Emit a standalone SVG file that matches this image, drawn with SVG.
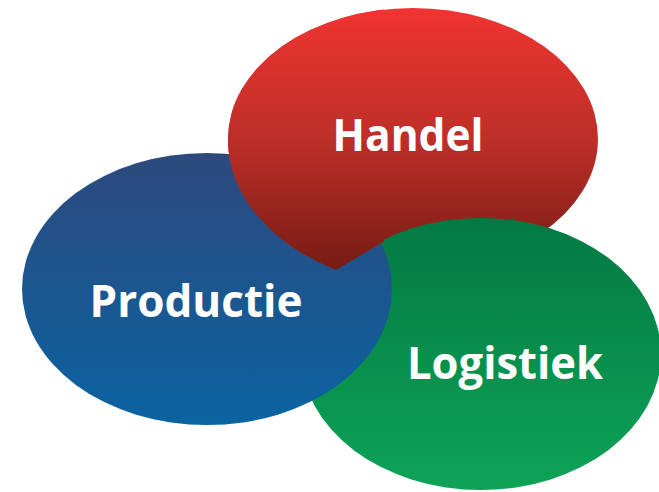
<svg xmlns="http://www.w3.org/2000/svg" xmlns:xlink="http://www.w3.org/1999/xlink" width="659" height="492" viewBox="0 0 659 492">
<defs>
<linearGradient id="gRed" gradientUnits="userSpaceOnUse" x1="0" y1="8" x2="0" y2="270">
<stop offset="0" stop-color="#F03431"/>
<stop offset="0.5" stop-color="#BD2F28"/>
<stop offset="1" stop-color="#761C14"/>
</linearGradient>
<linearGradient id="gBlue" gradientUnits="userSpaceOnUse" x1="0" y1="153" x2="0" y2="425">
<stop offset="0" stop-color="#2D497D"/>
<stop offset="1" stop-color="#0A63A1"/>
</linearGradient>
<linearGradient id="gGreen" gradientUnits="userSpaceOnUse" x1="0" y1="218" x2="0" y2="490">
<stop offset="0" stop-color="#037943"/>
<stop offset="1" stop-color="#0EA357"/>
</linearGradient>
<path id="redShape" d="M336,270 C285,250 228,205 228,139 A185,131 0 0 1 598,139 A185,131 0 0 1 540,234 L430,262 L385,241 Z"/>
<clipPath id="clipLeft"><rect x="0" y="0" width="384" height="492"/></clipPath>
</defs>
<style>
.lbl{font-family:"Open Sans","Liberation Sans",sans-serif;font-weight:bold;fill:#FFFFFF;font-size:45px;text-anchor:middle}
</style>
<g id="handel">
<use xlink:href="#redShape" fill="url(#gRed)"/>
</g>
<g id="logistiek">
<ellipse cx="481" cy="354" rx="180" ry="136" fill="url(#gGreen)"/>
</g>
<g id="productie">
<ellipse cx="207" cy="289" rx="185" ry="136" fill="url(#gBlue)"/>
</g>
<g id="handel-overlap" clip-path="url(#clipLeft)">
<use xlink:href="#redShape" fill="url(#gRed)"/>
</g>
<g id="connectors"/>
<g id="labels">
<text class="lbl" x="408" y="151" textLength="151" lengthAdjust="spacingAndGlyphs">Handel</text>
<text class="lbl" x="196" y="317" textLength="213" lengthAdjust="spacingAndGlyphs">Productie</text>
<text class="lbl" x="505" y="379" textLength="196" lengthAdjust="spacingAndGlyphs">Logistiek</text>
</g>
</svg>
